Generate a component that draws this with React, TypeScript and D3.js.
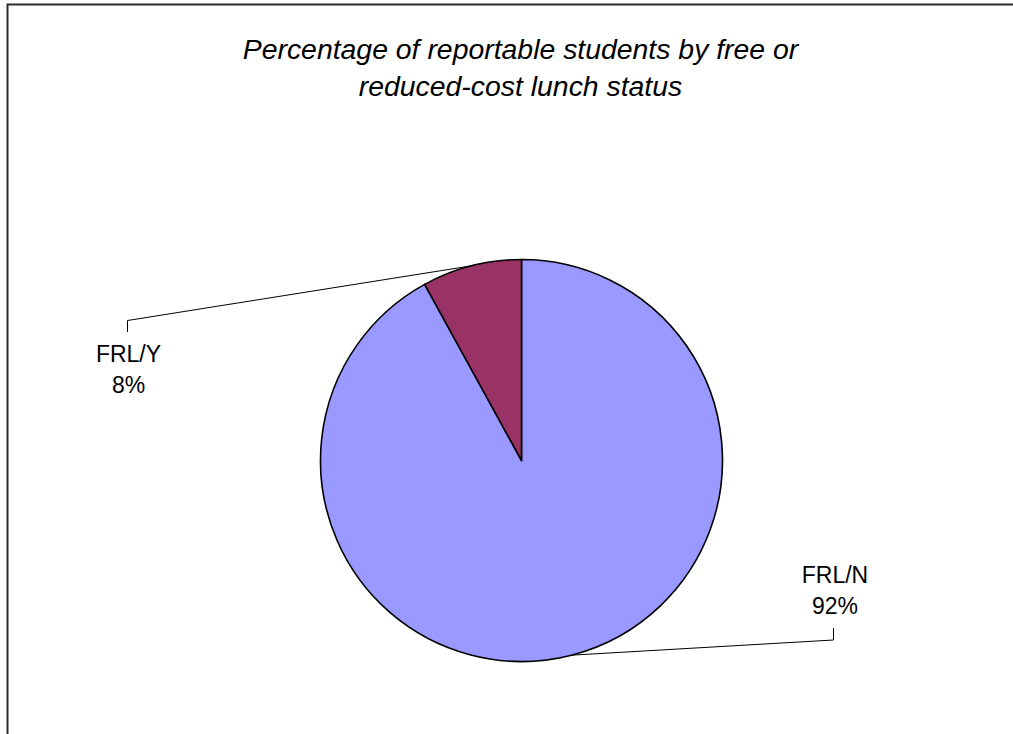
import React from "react";
import * as d3 from "d3";

// Share of reportable students by free / reduced-cost lunch status (percent)
const categories = ["FRL/N", "FRL/Y"];
const percentages = [92, 8];
const sliceColors = ["#9999FF", "#993366"];
const titleLines = [
  "Percentage of reportable students by free or",
  "reduced-cost lunch status",
];

const W = 1013;
const H = 734;
const CX = 521.5;
const CY = 460.5;
const R = 201;
const FONT = "'Liberation Sans', Arial, Helvetica, sans-serif";

// Where each data label sits: text centre x, first baseline y, and the elbow of its leader line
const labelLayout: Record<string, { x: number; y: number; elbowX: number; elbowY: number; stubY: number }> = {
  "FRL/Y": { x: 128.5, y: 361.7, elbowX: 127.5, elbowY: 320.5, stubY: 332 },
  "FRL/N": { x: 835, y: 582.7, elbowX: 833.5, elbowY: 640, stubY: 628 },
};

type Slice = { name: string; value: number; color: string };

export default function App() {
  const slices: Slice[] = categories.map((c, i) => ({ name: c, value: percentages[i], color: sliceColors[i] }));

  // Slices run clockwise from 12 o'clock; the last one is shifted back a full turn
  // so it sits just left of the top (same geometry, angles kept in -π..2π).
  const pie = d3
    .pie<Slice>()
    .value((d) => d.value)
    .sort(null)
    .startAngle(0)
    .endAngle(2 * Math.PI);
  const arcData = pie(slices).map((a) =>
    a.index === slices.length - 1
      ? { ...a, startAngle: a.startAngle - 2 * Math.PI, endAngle: a.endAngle - 2 * Math.PI }
      : a
  );

  const arcGen = d3
    .arc<{ startAngle: number; endAngle: number }>()
    .innerRadius(0)
    .outerRadius(R);

  // Point on the rim at the middle of a slice (leader-line anchor)
  const edgePoint = (a: { startAngle: number; endAngle: number }) => {
    const mid = (a.startAngle + a.endAngle) / 2;
    return [CX + R * Math.sin(mid), CY - R * Math.cos(mid)];
  };

  return (
    <svg
      width={W}
      height={H}
      style={{ position: "absolute", left: 0, top: 0, background: "#fff" }}
      xmlns="http://www.w3.org/2000/svg"
    >
      <rect x={0} y={0} width={W} height={H} fill="#fff" />
      {/* chart frame */}
      <rect x={7.5} y={4.5} width={1200} height={900} fill="none" stroke="#2a2a2a" strokeWidth={2} />

      {/* title */}
      {titleLines.map((t, i) => (
        <text
          key={t}
          x={520.5}
          y={59 + i * 37}
          textAnchor="middle"
          fontFamily={FONT}
          fontStyle="italic"
          fontSize={28.4}
          fill="#000"
        >
          {t}
        </text>
      ))}

      {/* leader lines (drawn beneath the pie) */}
      {arcData.map((a) => {
        const L = labelLayout[a.data.name];
        const [px, py] = edgePoint(a);
        return (
          <polyline
            key={"ll-" + a.data.name}
            points={`${L.elbowX},${L.stubY} ${L.elbowX},${L.elbowY} ${px},${py}`}
            fill="none"
            stroke="#000"
            strokeWidth={1}
          />
        );
      })}

      {/* slices */}
      <g transform={`translate(${CX},${CY})`}>
        {arcData.map((a) => (
          <path
            key={a.data.name}
            d={arcGen(a) || ""}
            fill={a.data.color}
            stroke="#000"
            strokeWidth={1.6}
            strokeLinejoin="round"
          />
        ))}
      </g>

      {/* data labels */}
      {arcData.map((a) => {
        const L = labelLayout[a.data.name];
        return (
          <text key={"lb-" + a.data.name} textAnchor="middle" fontFamily={FONT} fontSize={23} fill="#000">
            <tspan x={L.x} y={L.y}>
              {a.data.name}
            </tspan>
            <tspan x={L.x} y={L.y + 31.6}>
              {`${a.data.value}%`}
            </tspan>
          </text>
        );
      })}
    </svg>
  );
}
